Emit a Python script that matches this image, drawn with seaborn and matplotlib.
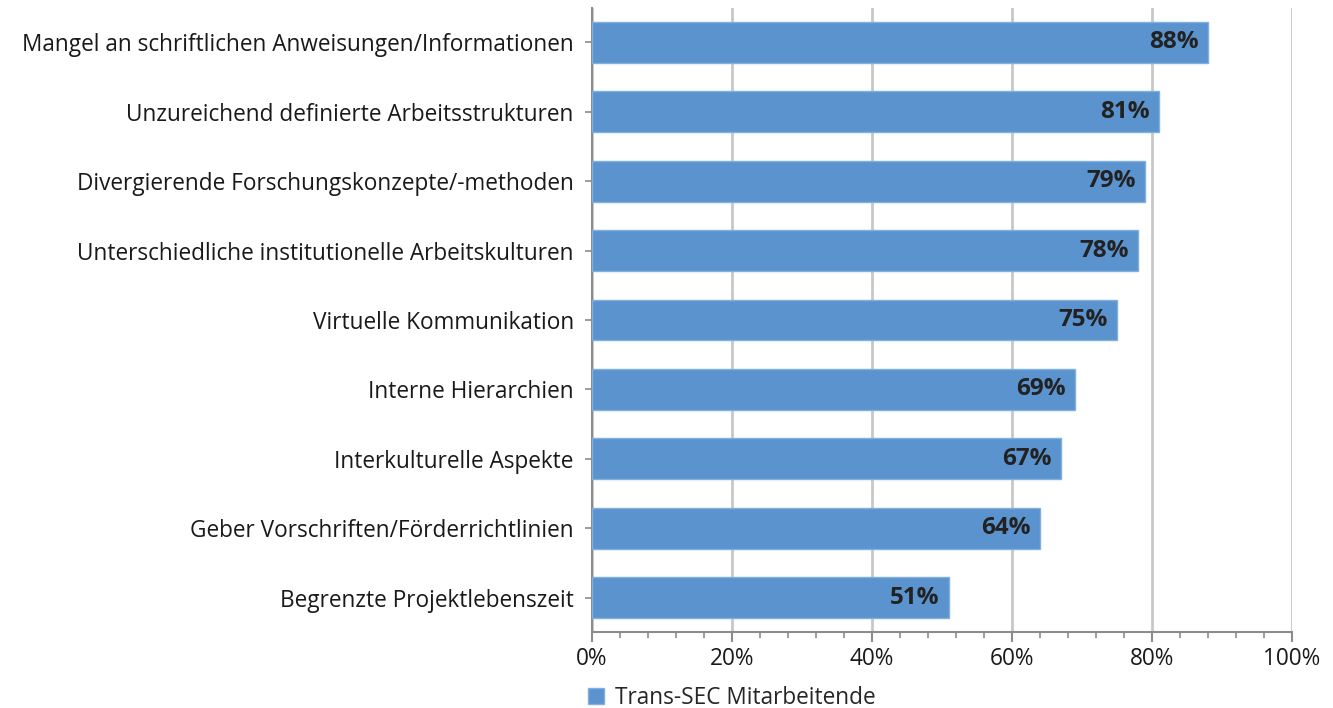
import pandas as pd
import matplotlib.pyplot as plt
import matplotlib.ticker as mticker
import seaborn as sns

categories = [
    "Mangel an schriftlichen Anweisungen/Informationen",
    "Unzureichend definierte Arbeitsstrukturen",
    "Divergierende Forschungskonzepte/-methoden",
    "Unterschiedliche institutionelle Arbeitskulturen",
    "Virtuelle Kommunikation",
    "Interne Hierarchien",
    "Interkulturelle Aspekte",
    "Geber Vorschriften/Förderrichtlinien",
    "Begrenzte Projektlebenszeit",
]
values = [88, 81, 79, 78, 75, 69, 67, 64, 51]
series_name = "Trans-SEC Mitarbeitende"
x_ticks = [0, 20, 40, 60, 80, 100]

df = pd.DataFrame({"Kategorie": categories, "Anteil": values})

sns.set_style("white")
plt.rcParams['font.family'] = ['Open Sans', 'DejaVu Sans']

bar_color = "#5B93CE"
fig = plt.figure(figsize=(13.33, 7.08), dpi=100)
ax = fig.add_axes([0.444, 0.107, 0.525, 0.882])

sns.barplot(data=df, y="Kategorie", x="Anteil", orient="h", color=bar_color,
            width=0.59, saturation=1, ax=ax, label=series_name, zorder=3,
            edgecolor="#7fb0e0", linewidth=1)

ax.set_xlim(0, 100)
ax.set_ylim(8.5, -0.5)
ax.set_xticks(x_ticks)
ax.xaxis.set_major_formatter(mticker.FuncFormatter(lambda v, p: f"{v:.0f}%"))
ax.xaxis.set_minor_locator(mticker.MultipleLocator(4))
ax.grid(axis="x", color="#c8c8c8", linewidth=2, zorder=0)
ax.set_axisbelow(True)
ax.set_xlabel("")
ax.set_ylabel("")

for s in ["top", "right"]:
    ax.spines[s].set_visible(False)
for s in ["left", "bottom"]:
    ax.spines[s].set_color("#8c8c8c")
    ax.spines[s].set_linewidth(1.5)

ax.tick_params(axis="x", which="major", bottom=True, length=7, width=1.5,
               color="#8c8c8c", labelsize=16.3, labelcolor="#1a1a1a",
               direction="out")
ax.tick_params(axis="x", which="minor", bottom=True, length=4, width=1.2,
               color="#8c8c8c", direction="out")
ax.tick_params(axis="y", left=True, length=5, width=1.2, color="#8c8c8c",
               labelsize=16.3, labelcolor="#1a1a1a", pad=8)

for i, v in enumerate(values):
    ax.text(v - 1.3, i, f"{v}%", ha="right", va="center", fontsize=17.5,
            fontweight="bold", color="#222222", zorder=4)

ax.legend(loc="upper left", bbox_to_anchor=(-0.025, -0.064), frameon=False,
          fontsize=16.3, handlelength=0.7, handleheight=0.7, handletextpad=0.5,
          borderaxespad=0.2)

fig.savefig("out.png", dpi=100)
